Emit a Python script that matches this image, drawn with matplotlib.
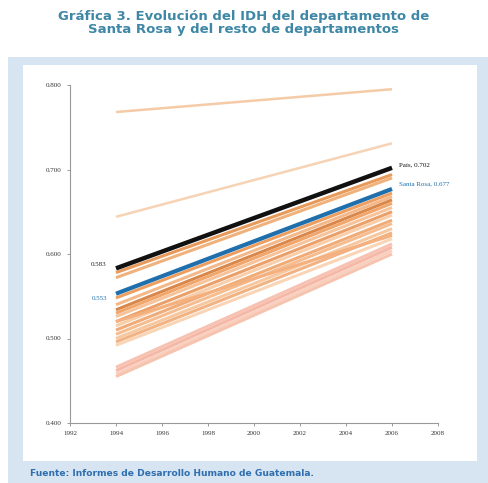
import numpy as np
import matplotlib
matplotlib.use("Agg")
import matplotlib.pyplot as plt
from matplotlib.patches import Rectangle

# Años de los informes
anios = [1994, 2006]

# IDH del país y de Santa Rosa
idh_pais = [0.583, 0.702]
idh_santa_rosa = [0.553, 0.677]

# IDH del resto de departamentos (1994, 2006)
idh_1994 = [0.768, 0.644, 0.578, 0.572, 0.548, 0.540, 0.534, 0.530, 0.526, 0.520,
            0.515, 0.510, 0.505, 0.500, 0.496, 0.492, 0.520, 0.466, 0.462, 0.458, 0.455]
idh_2006 = [0.795, 0.731, 0.694, 0.690, 0.672, 0.668, 0.664, 0.660, 0.655, 0.650,
            0.646, 0.640, 0.636, 0.630, 0.625, 0.618, 0.622, 0.612, 0.608, 0.604, 0.600]
colores_deptos = ['#f4cba6', '#f5d3b4', '#e79a5a', '#f0b27c', '#ee9f60', '#f3b98a',
                  '#d9874a', '#f1a66c', '#f6c39a', '#eba06a', '#f8cfaa', '#f0ac78',
                  '#f5bd90', '#f7c8a0', '#f2b384', '#f9d5b5', '#f4b07e', '#f7c2b2',
                  '#f5b8a6', '#f9cfc0', '#f6c4ae']
grosores = [1.8, 1.8] + [2.2] * 19

x_ticks = list(range(1992, 2009, 2))
y_ticks = [0.4, 0.5, 0.6, 0.7, 0.8]

fig = plt.figure(figsize=(4.88, 4.83), dpi=100)

# Marco de fondo
fig.patches.append(Rectangle((8 / 488, 0), 480 / 488, 426 / 483, transform=fig.transFigure,
                             facecolor='#d7e4f1', edgecolor='none', zorder=-2))
fig.patches.append(Rectangle((23 / 488, 22 / 483), 454 / 488, 396 / 483, transform=fig.transFigure,
                             facecolor='white', edgecolor='none', zorder=-1))

ax = fig.add_axes([70 / 488, 60 / 483, 368 / 488, 338 / 483])
ax.set_facecolor('none')

for y0, y1, c, w in zip(idh_1994, idh_2006, colores_deptos, grosores):
    ax.plot(anios, [y0, y1], color=c, lw=w, solid_capstyle='butt')

ax.plot(anios, idh_pais, color='#111111', lw=3.2, solid_capstyle='butt')
ax.plot(anios, idh_santa_rosa, color='#1f6fad', lw=3.0, solid_capstyle='butt')

# Etiquetas de los valores
ax.text(1993.6, idh_pais[0] + 0.004, '0.583', fontsize=5, family='Liberation Serif',
        color='#222222', ha='right', va='center')
ax.text(1993.6, idh_santa_rosa[0] - 0.006, '0.553', fontsize=5, family='Liberation Serif',
        color='#1f6fad', ha='right', va='center')
ax.text(2006.3, idh_pais[1] + 0.003, 'País, 0.702', fontsize=5, family='Liberation Serif',
        color='#111111', ha='left', va='center')
ax.text(2006.3, idh_santa_rosa[1] + 0.006, 'Santa Rosa, 0.677', fontsize=5,
        family='Liberation Serif', color='#1f6fad', ha='left', va='center')

ax.set_xlim(1992, 2008)
ax.set_ylim(0.4, 0.8)
ax.set_xticks(x_ticks)
ax.set_yticks(y_ticks)
ax.set_xticklabels([str(a) for a in x_ticks])
ax.set_yticklabels(['%.3f' % v for v in y_ticks])
for lbl in ax.get_xticklabels() + ax.get_yticklabels():
    lbl.set_family('Liberation Serif')
ax.tick_params(labelsize=5, colors='#888888', labelcolor='#333333', length=2, width=0.6, pad=4)
for s in ['top', 'right']:
    ax.spines[s].set_visible(False)
for s in ['left', 'bottom']:
    ax.spines[s].set_color('#999999')
    ax.spines[s].set_linewidth(0.8)

fig.text(0.5, 1 - 23 / 483, 'Gráfica 3. Evolución del IDH del departamento de\nSanta Rosa y del resto de departamentos',
         ha='center', va='center', fontsize=9.5, fontweight='bold', color='#3f87a6',
         linespacing=1.0)
fig.text(30 / 488, 1 - 473 / 483, 'Fuente: Informes de Desarrollo Humano de Guatemala.',
         ha='left', va='center', fontsize=6.6, fontweight='bold', color='#2f6fb0')

fig.savefig('out.png', dpi=100)
